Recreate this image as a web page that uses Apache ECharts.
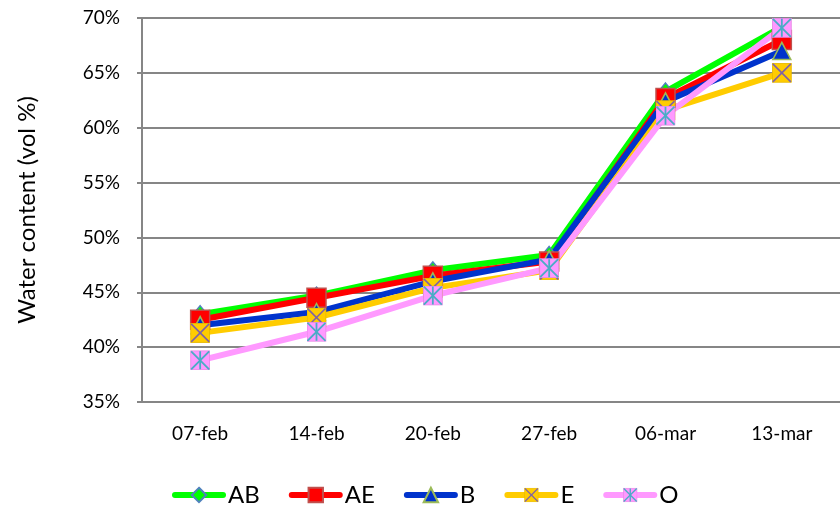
<!DOCTYPE html>
<html>
<head>
<meta charset="utf-8">
<script src="https://cdn.jsdelivr.net/npm/echarts@6/dist/echarts.min.js"></script>
<style>html,body{margin:0;padding:0;background:#fff}#c{width:840px;height:508px}</style>
</head>
<body>
<div id="c"></div>
<script>
var categories = ['07-feb', '14-feb', '20-feb', '27-feb', '06-mar', '13-mar'];
var seriesNames = ['AB', 'AE', 'B', 'E', 'O'];
var AB = [43.0, 44.7, 47.0, 48.4, 63.3, 69.2];
var AE = [42.5, 44.5, 46.5, 47.8, 62.7, 68.0];
var B  = [42.0, 43.2, 46.0, 48.0, 62.4, 67.0];
var E  = [41.3, 42.7, 45.4, 47.0, 61.6, 65.0];
var O  = [38.8, 41.4, 44.7, 47.2, 61.1, 69.1];
var yTicks = { min: 35, max: 70, step: 5 };

function svgImg(svg) {
  return 'image://data:image/svg+xml;charset=utf-8,' + encodeURIComponent(svg);
}
var symE = svgImg('<svg xmlns="http://www.w3.org/2000/svg" width="20" height="20" viewBox="0 0 20 20">' +
  '<rect x="0.5" y="0.5" width="19" height="19" fill="#FFCC00" stroke="#E8B800" stroke-width="1"/>' +
  '<line x1="1" y1="1" x2="19" y2="19" stroke="#7F62A5" stroke-width="1.6"/>' +
  '<line x1="19" y1="1" x2="1" y2="19" stroke="#7F62A5" stroke-width="1.6"/></svg>');
var symO = svgImg('<svg xmlns="http://www.w3.org/2000/svg" width="20" height="20" viewBox="0 0 20 20">' +
  '<rect x="0.5" y="0.5" width="19" height="19" fill="#FF99FF" stroke="#E58AE5" stroke-width="1"/>' +
  '<line x1="10" y1="1" x2="10" y2="19" stroke="#4BACC6" stroke-width="1.8"/>' +
  '<line x1="1" y1="1" x2="19" y2="19" stroke="#4BACC6" stroke-width="1.8"/>' +
  '<line x1="19" y1="1" x2="1" y2="19" stroke="#4BACC6" stroke-width="1.8"/></svg>');

var FONT = 'Lato, "Open Sans", sans-serif';

function mk(name, data, color, symbol, size, border) {
  return {
    name: name, type: 'line', data: data,
    symbol: symbol, symbolSize: size, showAllSymbol: true,
    color: color,
    lineStyle: { color: color, width: 6 },
    itemStyle: { color: color, borderColor: border || color, borderWidth: border ? 1.5 : 0 },
    emphasis: { disabled: true },
    animation: false
  };
}

var chart = echarts.init(document.getElementById('c'));
chart.setOption({
  animation: false,
  backgroundColor: '#fff',
  grid: { left: 142, right: 0, top: 18, bottom: 106, containLabel: false },
  xAxis: {
    type: 'category', data: categories, boundaryGap: true,
    axisLine: { lineStyle: { color: '#868686', width: 2 } },
    axisTick: { show: false },
    axisLabel: { color: '#000', fontSize: 19, fontFamily: FONT, margin: 22 },
    splitLine: { show: false }
  },
  yAxis: {
    type: 'value', min: yTicks.min, max: yTicks.max, interval: yTicks.step,
    name: 'Water content (vol %)', nameLocation: 'middle', nameGap: 103,
    nameTextStyle: { color: '#000', fontSize: 24, fontFamily: FONT },
    axisLine: { show: true, lineStyle: { color: '#868686', width: 2 } },
    axisTick: { show: true, inside: false, length: 5, lineStyle: { color: '#868686', width: 2 } },
    axisLabel: { color: '#000', fontSize: 19, fontFamily: FONT, margin: 22, formatter: '{value}%' },
    splitLine: { lineStyle: { color: '#868686', width: 2 } }
  },
  legend: {
    data: seriesNames,
    left: 167, top: 478,
    itemWidth: 48, itemHeight: 18, itemGap: 29,
    lineStyle: { width: 6, cap: 'round' },
    textStyle: { color: '#000', fontSize: 24, fontFamily: FONT }
  },
  series: [
    mk('AB', AB, '#00FF00', 'diamond', [14, 17], '#4F81BD'),
    mk('AE', AE, '#FF0000', 'rect', 19, '#C0504D'),
    mk('B', B, '#0033CC', 'triangle', [18, 17], '#9BBB59'),
    mk('E', E, '#FFCC00', symE, 20),
    mk('O', O, '#FF99FF', symO, 20)
  ]
});
</script>
</body>
</html>
